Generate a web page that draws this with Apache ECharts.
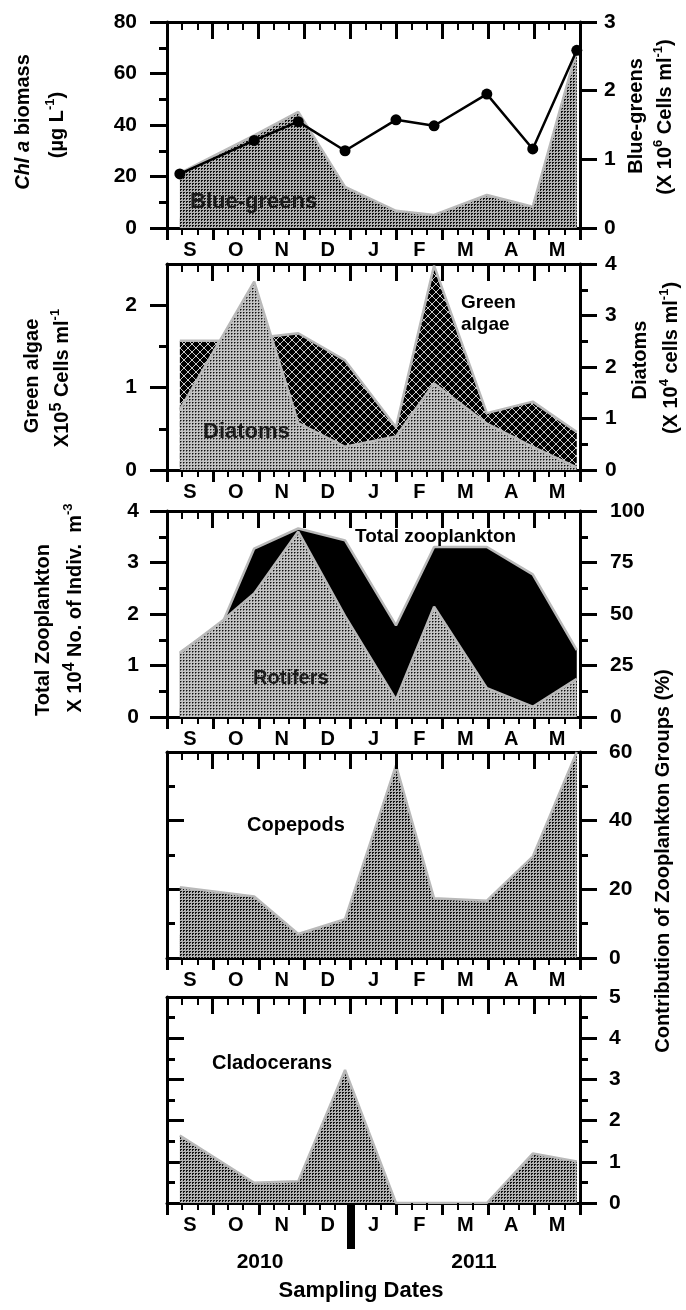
<!DOCTYPE html>
<html>
<head>
<meta charset="utf-8">
<script src="https://cdn.jsdelivr.net/npm/echarts@6/dist/echarts.min.js"></script>
<style>
html, body { margin: 0; padding: 0; background: #fff; }
#chart { width: 686px; height: 1310px; }
</style>
</head>
<body>
<div id="chart"></div>
<script>
// Sampling dates, in months counted from 1 September 2010 (0 = Sep 1, 9 = Jun 1)
const sampleMonths = [0.28, 1.22, 1.90, 2.86, 3.88, 4.99, 5.82, 6.97, 7.97, 8.93];
const monthLabels = ['S', 'O', 'N', 'D', 'J', 'F', 'M', 'A', 'M'];

// Phytoplankton
const chlA        = [21, null, 34, 41.3, 30, 42, 39.7, 52, 30.7, 69];          // µg L-1
const blueGreens  = [0.80, null, 1.35, 1.69, 0.60, 0.25, 0.19, 0.48, 0.31, 2.59]; // x10^6 cells ml-1
const greenAlgae  = [1.57, 1.57, 1.60, 1.66, 1.33, 0.52, 2.48, 0.69, 0.83, 0.46]; // x10^5 cells ml-1
const diatoms     = [1.17, null, 3.66, 0.91, 0.45, 0.65, 1.68, 0.90, 0.45, 0.05]; // x10^4 cells ml-1

// Zooplankton
const totalZoo    = [1.25, 1.85, 3.27, 3.66, 3.43, 1.78, 3.30, 3.30, 2.77, 1.30]; // x10^4 indiv. m-3
const rotifers    = [31, 47, 60, 90, 49, 8.4, 53.5, 14, 5, 18.5];                // %
const copepods    = [20.6, null, 17.9, 7.0, 11.3, 56.1, 17.4, 16.7, 29.5, 60];   // %
const cladocerans = [1.64, null, 0.49, 0.53, 3.23, 0, 0, 0, 1.2, 1.01];         // %

const FONT = '"Liberation Sans", Arial, Helvetica, sans-serif';

// ---------- fill patterns ----------
function makePattern(size, bg, cells) {
  const c = document.createElement('canvas');
  c.width = size; c.height = size;
  const g = c.getContext('2d');
  g.fillStyle = bg; g.fillRect(0, 0, size, size);
  cells.forEach(([x, y, col]) => { g.fillStyle = col; g.fillRect(x, y, 1, 1); });
  return { image: c, repeat: 'repeat' };
}
const patDots = makePattern(3, '#b2b2b2', [[0, 0, '#111'], [1, 0, '#111'], [0, 1, '#111']]);
const patLight = makePattern(3, '#c4c4c4', [[0, 0, '#111'], [1, 0, '#6a6a6a'], [0, 1, '#6a6a6a']]);
const patStrip = makePattern(2, '#8a8a8a', [[0, 0, '#3a3a3a'], [1, 1, '#3a3a3a']]);
const patCross = (function () {
  const cells = [];
  for (let i = 0; i < 8; i++) { cells.push([i, i, '#c8c8c8']); cells.push([i, 7 - i, '#c8c8c8']); }
  return makePattern(8, '#000', cells);
})();

// ---------- layout ----------
const GRID_LEFT = 167, GRID_W = 413, GRID_H = 206;
const panelTops = [22, 264, 511, 752, 997];
const NP = panelTops.length;

const grids = panelTops.map(t => ({ left: GRID_LEFT, top: t, width: GRID_W, height: GRID_H }));

const blackLine = { color: '#000', width: 3 };
const tickLabel = { fontFamily: FONT, fontWeight: 'bold', fontSize: 21, color: '#000' };
const monthTicks = Array.from({ length: 10 }, (_, i) => i);
const thirdTicks = [];
for (let i = 0; i < 9; i++) { thirdTicks.push(i + 1 / 3, i + 2 / 3); }
const monthCentres = monthLabels.map((_, i) => i + 0.5);

const xAxes = [];
panelTops.forEach((t, p) => {
  // bottom frame: month boundaries and month initials
  xAxes.push({
    type: 'value', gridIndex: p, position: 'bottom', min: 0, max: 9, interval: 1,
    axisLine: { show: true, onZero: false, lineStyle: blackLine },
    axisTick: { show: true, inside: false, length: 12, customValues: monthTicks,
                lineStyle: { color: '#000', width: 3 } },
    minorTick: { show: false },
    axisLabel: Object.assign({ show: true, margin: 12, customValues: monthCentres,
                               formatter: v => monthLabels[Math.floor(v)] }, tickLabel, { fontSize: 20 }),
    splitLine: { show: false }, minorSplitLine: { show: false }
  });
  // top frame line
  xAxes.push({
    type: 'value', gridIndex: p, position: 'top', min: 0, max: 9, interval: 1,
    axisLine: { show: true, onZero: false, lineStyle: blackLine },
    axisTick: { show: false }, minorTick: { show: false },
    axisLabel: { show: false }, splitLine: { show: false }, minorSplitLine: { show: false }
  });
});

function yAxis(p, side, min, max, interval, opts) {
  opts = opts || {};
  const inside = !!opts.inside;
  const ax = {
    type: 'value', gridIndex: p, position: side, min, max, interval,
    axisLine: { show: true, onZero: false, lineStyle: blackLine },
    axisTick: { show: true, inside, length: 17, lineStyle: { color: '#000', width: 3 } },
    minorTick: { show: !opts.noMinor, splitNumber: 2, length: 8, lineStyle: { color: '#000', width: 3 } },
    axisLabel: Object.assign({ show: !opts.noLabel, margin: opts.margin || 30 }, tickLabel),
    splitLine: { show: false }, minorSplitLine: { show: false }
  };
  if (opts.customValues) {
    ax.axisTick.customValues = opts.customValues;
    ax.axisLabel.customValues = opts.customValues;
  }
  return ax;
}

const yAxes = [
  yAxis(0, 'left', 0, 80, 20, { margin: 30 }),
  yAxis(0, 'right', 0, 3, 1, { margin: 24, noMinor: true }),
  yAxis(1, 'left', 0, 2.5, 1, { margin: 30, customValues: [0, 1, 2] }),
  yAxis(1, 'right', 0, 4, 1, { margin: 25 }),
  yAxis(2, 'left', 0, 4, 1, { margin: 28 }),
  yAxis(2, 'right', 0, 100, 25, { margin: 30 }),
  yAxis(3, 'left', 0, 60, 20, { inside: true, noLabel: true }),
  yAxis(3, 'right', 0, 60, 20, { margin: 29 }),
  yAxis(4, 'left', 0, 5, 1, { inside: true, noLabel: true }),
  yAxis(4, 'right', 0, 5, 1, { margin: 29 })
];

function pairs(arr) { return sampleMonths.map((m, i) => [m, arr[i]]); }

function area(name, values, p, side, fill, z, strip) {
  const s = {
    type: 'line', name, xAxisIndex: 2 * p, yAxisIndex: 2 * p + (side === 'right' ? 1 : 0),
    data: pairs(values), connectNulls: true, symbol: 'none', z,
    lineStyle: { color: '#b9b9b9', width: 2.5 },
    areaStyle: { color: fill, opacity: 1 },
    emphasis: { disabled: true }, silent: true
  };
  if (strip) {
    s.markArea = {
      silent: true,
      itemStyle: { color: patStrip, opacity: 1 },
      data: [[{ xAxis: sampleMonths[0], yAxis: 0 }, { xAxis: sampleMonths[sampleMonths.length - 1], yAxis: strip }]]
    };
  }
  return s;
}

const series = [
  area('Blue-greens', blueGreens, 0, 'right', patDots, 2, 0.15),
  {
    type: 'line', name: 'Chl a', xAxisIndex: 0, yAxisIndex: 0, data: pairs(chlA),
    connectNulls: true, symbol: 'circle', symbolSize: 11, z: 5,
    lineStyle: { color: '#000', width: 2.5 }, itemStyle: { color: '#000' }, silent: true
  },
  area('Green algae', greenAlgae, 1, 'left', patCross, 2),
  area('Diatoms', diatoms, 1, 'right', patLight, 3),
  area('Total zooplankton', totalZoo, 2, 'left', '#000', 2),
  area('Rotifers', rotifers, 2, 'right', patLight, 3, 4.4),
  area('Copepods', copepods, 3, 'right', patDots, 2, 6.8),
  area('Cladocerans', cladocerans, 4, 'right', patDots, 2)
];

// ---------- text ----------
const rich = {
  it: { fontFamily: FONT, fontWeight: 'bold', fontStyle: 'italic', fontSize: 20, lineHeight: 26 },
  sup: { fontFamily: FONT, fontWeight: 'bold', fontSize: 13, verticalAlign: 'top', lineHeight: 13 },
  supb: { fontFamily: FONT, fontWeight: 'bold', fontSize: 16, verticalAlign: 'top', lineHeight: 16 }
};
function txt(x, y, text, o) {
  o = o || {};
  return {
    type: 'text', x, y, rotation: o.rot ? Math.PI / 2 : 0, silent: true, z: 50,
    style: {
      text, fontFamily: FONT, fontWeight: 'bold', fontSize: o.size || 20,
      lineHeight: o.lh || 26, fill: o.fill || '#000',
      align: o.align || 'center', verticalAlign: 'middle', rich
    }
  };
}

const labels = [
  // axis titles
  txt(23, 122, '{it|Chl a} biomass', { rot: true }),
  txt(57, 125, '(µg L{sup|-1})', { rot: true }),
  txt(636, 116, 'Blue-greens', { rot: true }),
  txt(665, 117, '(X 10{sup|6} Cells ml{sup|-1})', { rot: true }),
  txt(32, 376, 'Green algae', { rot: true }),
  txt(62, 378, 'X10{supb|5} Cells ml{sup|-1}', { rot: true }),
  txt(640, 360, 'Diatoms', { rot: true }),
  txt(671, 358, '(X 10{sup|4} cells ml{sup|-1})', { rot: true }),
  txt(43, 630, 'Total Zooplankton', { rot: true }),
  txt(75, 608, 'X 10{supb|4} No. of Indiv.  m{sup|-3}', { rot: true }),
  txt(663, 861, 'Contribution of Zooplankton Groups (%)', { rot: true }),
  // series labels inside the panels
  txt(190, 202, 'Blue-greens', { align: 'left', size: 22, fill: '#1a1a1a' }),
  txt(461, 314, 'Green\nalgae', { align: 'left', size: 19, lh: 22 }),
  txt(203, 432, 'Diatoms', { align: 'left', size: 22, fill: '#1a1a1a' }),
  txt(355, 537, 'Total zooplankton', { align: 'left', size: 19 }),
  txt(253, 678, 'Rotifers', { align: 'left', size: 20, fill: '#1a1a1a' }),
  txt(247, 825, 'Copepods', { align: 'left', size: 20 }),
  txt(212, 1063, 'Cladocerans', { align: 'left', size: 20 }),
  // years and x title
  txt(260, 1262, '2010', { size: 21 }),
  txt(474, 1262, '2011', { size: 21 }),
  txt(361, 1291, 'Sampling Dates', { size: 22 })
];

const chart = echarts.init(document.getElementById('chart'), null, { renderer: 'canvas' });
chart.setOption({
  animation: false,
  backgroundColor: '#fff',
  grid: grids,
  xAxis: xAxes,
  yAxis: yAxes,
  series
});

// frame ticks along the time axis, placed through each panel's own x scale:
// long marks at month boundaries and short 10-day marks hanging from the top frame,
// plus the short 10-day marks below the bottom frame
const marks = [];
function tickBar(px, y, len, w) {
  return { type: 'rect', silent: true, z: 40,
           shape: { x: Math.round(px - w / 2), y, width: w, height: len },
           style: { fill: '#000' } };
}
panelTops.forEach((panelTop, p) => {
  const panelBottom = panelTop + GRID_H;
  monthTicks.forEach(v => {
    const px = chart.convertToPixel({ xAxisIndex: 2 * p }, v);
    marks.push(tickBar(px, panelTop, 17, 3));
  });
  thirdTicks.forEach(v => {
    const px = chart.convertToPixel({ xAxisIndex: 2 * p }, v);
    marks.push(tickBar(px, panelTop, 8, 2));
    marks.push(tickBar(px, panelBottom, 7, 2));
  });
});

// year boundary (1 January 2011) marked under the last panel
const jan1 = chart.convertToPixel({ xAxisIndex: 2 * (NP - 1) }, 4);
marks.push({
  type: 'rect', silent: true, z: 50,
  shape: { x: Math.round(jan1) - 4, y: panelTops[NP - 1] + GRID_H, width: 8, height: 46 },
  style: { fill: '#000' }
});

chart.setOption({ graphic: { elements: labels.concat(marks) } });
</script>
</body>
</html>
